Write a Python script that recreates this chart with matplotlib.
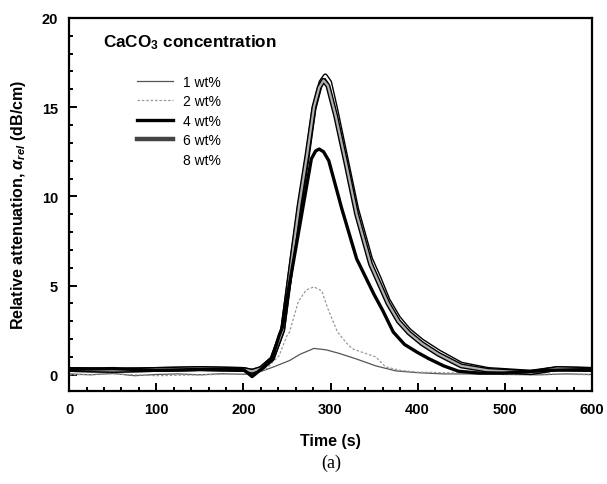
import matplotlib
matplotlib.use("Agg")
import matplotlib.pyplot as plt
import matplotlib.patheffects as pe
from matplotlib.lines import Line2D
from matplotlib.ticker import MultipleLocator

plt.rcParams['font.family'] = ['Liberation Sans', 'DejaVu Sans']
plt.rcParams['mathtext.fontset'] = 'custom'
plt.rcParams['mathtext.it'] = 'Liberation Sans:italic:bold'
plt.rcParams['mathtext.rm'] = 'Liberation Sans:bold'

# values
t_1 = [0, 25, 50, 75, 100, 125, 150, 175, 200, 210, 222, 235, 253, 265, 281,
       295, 310, 329, 352, 375, 400, 430, 460, 500, 540, 570, 600]
a_1 = [0.05, 0.0, 0.08, -0.05, 0.02, 0.05, 0.0, 0.06, 0.03, 0.05, 0.22, 0.45,
       0.8, 1.15, 1.48, 1.4, 1.2, 0.9, 0.5, 0.22, 0.12, 0.05, 0.05, 0.02, 0.0,
       0.05, 0.02]

t_2 = [0, 50, 100, 150, 200, 215, 226, 241, 250, 253, 263, 272, 281, 290, 297,
       308, 318, 325, 340, 352, 363, 380, 400, 450, 500, 550, 600]
a_2 = [0.0, 0.05, -0.05, 0.0, 0.05, 0.1, 0.33, 1.07, 2.2, 2.4, 4.1, 4.75, 4.93,
       4.7, 3.7, 2.4, 1.8, 1.46, 1.2, 1.0, 0.45, 0.25, 0.15, 0.1, 0.05, 0.05, 0.0]

t_4 = [0, 50, 100, 150, 200, 210, 220, 233, 241, 245, 250, 258, 268, 278, 283,
       287, 292, 298, 313, 330, 340, 350, 360, 372, 385, 400, 413, 430, 447,
       470, 500, 550, 600]
a_4 = [0.3, 0.35, 0.25, 0.3, 0.3, -0.1, 0.3, 0.9, 2.2, 2.7, 4.3, 6.5, 9.3, 12.1,
       12.55, 12.65, 12.5, 12.0, 9.3, 6.5, 5.5, 4.5, 3.6, 2.4, 1.7, 1.25, 0.9,
       0.5, 0.2, 0.1, 0.1, 0.25, 0.3]

t_6 = [0, 50, 100, 150, 200, 210, 220, 233, 245, 256, 264, 273, 281, 287, 292,
       297, 306, 318, 330, 346, 356, 366, 378, 390, 405, 424, 450, 481, 530,
       560, 600]
a_6 = [0.3, 0.25, 0.3, 0.35, 0.3, 0.2, 0.35, 0.9, 2.5, 6.6, 9.5, 12.3, 15.0,
       16.1, 16.5, 16.2, 14.5, 11.8, 9.0, 6.2, 5.1, 4.0, 3.0, 2.35, 1.75, 1.15,
       0.5, 0.25, 0.12, 0.35, 0.3]

t_8 = [0, 50, 100, 150, 200, 210, 220, 233, 245, 256, 264, 273, 281, 289, 294,
       299, 306, 318, 330, 346, 356, 366, 378, 390, 405, 424, 450, 481, 530,
       560, 600]
a_8 = [0.3, 0.25, 0.3, 0.35, 0.3, 0.2, 0.35, 0.9, 2.5, 6.5, 9.3, 12.1, 14.9,
       16.4, 16.75, 16.4, 14.9, 12.1, 9.3, 6.5, 5.4, 4.2, 3.2, 2.5, 1.9, 1.3,
       0.6, 0.3, 0.15, 0.35, 0.3]

labels = ["1 wt%", "2 wt%", "4 wt%", "6 wt%", "8 wt%"]

fig = plt.figure(figsize=(6.07, 4.85), dpi=100)
ax = fig.add_axes([0.114, 0.192, 0.861, 0.769])

outline = [pe.Stroke(linewidth=3.6, foreground="black"), pe.Normal()]
ax.plot(t_1, a_1, color="#555555", lw=0.9)
ax.plot(t_2, a_2, color="#999999", lw=0.9, ls=(0, (2, 1.5)))
ax.plot(t_8, a_8, color="white", lw=1.6, path_effects=outline)
ax.plot(t_6, a_6, color="#b0b0b0", lw=1.6, path_effects=outline)
ax.plot(t_4, a_4, color="black", lw=2.4)

ax.set_xlim(0, 600)
ax.set_ylim(-0.9, 20)
ax.xaxis.set_major_locator(MultipleLocator(100))
ax.xaxis.set_minor_locator(MultipleLocator(20))
ax.yaxis.set_major_locator(MultipleLocator(5))
ax.yaxis.set_minor_locator(MultipleLocator(1))
ax.tick_params(which="both", direction="in", top=False, right=False, width=1.4)
ax.tick_params(which="major", length=6, labelsize=10.5, pad=8)
ax.tick_params(which="minor", length=3)
for lab in ax.get_xticklabels() + ax.get_yticklabels():
    lab.set_fontweight("bold")
for s in ax.spines.values():
    s.set_linewidth(1.6)

ax.set_xlabel("Time (s)", fontsize=11.5, fontweight="bold", labelpad=12)
ax.set_ylabel(r"Relative attenuation, $\alpha_{rel}$ (dB/cm)",
              fontsize=11.5, fontweight="bold", labelpad=10)

ax.text(0.065, 0.936, r"CaCO$_3$ concentration", transform=ax.transAxes,
        fontsize=12.3, fontweight="bold", va="center", ha="left")

handles = [Line2D([], [], color="#555555", lw=0.9),
           Line2D([], [], color="#999999", lw=0.9, ls=(0, (2, 1.5))),
           Line2D([], [], color="black", lw=2.4),
           Line2D([], [], color="#444444", lw=3.2),
           Line2D([], [], color="white", lw=2.4)]
ax.legend(handles, labels, loc="upper left", bbox_to_anchor=(0.13, 0.848),
          frameon=False, fontsize=10, handlelength=2.6, handletextpad=0.7,
          labelspacing=0.4, borderpad=0, borderaxespad=0)

fig.text(0.545, 0.045, "(a)", fontsize=13, family="Liberation Serif",
         ha="center", va="center")

fig.savefig("out.png", dpi=100)
